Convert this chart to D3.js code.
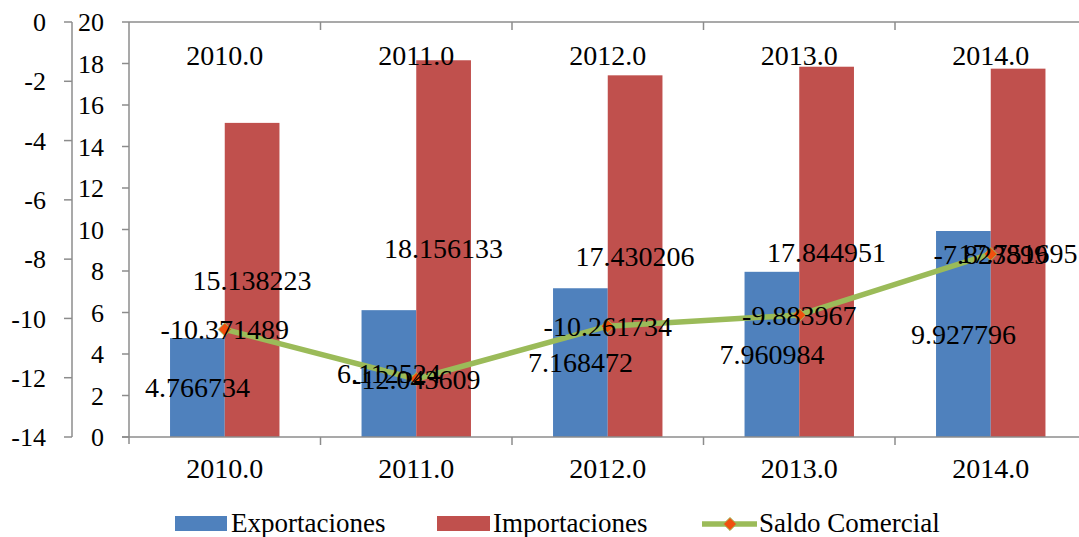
<!DOCTYPE html>
<html>
<head>
<meta charset="utf-8">
<script src="https://cdn.jsdelivr.net/npm/d3@7/dist/d3.min.js"></script>
<style>
  html, body { margin: 0; padding: 0; background: #fff; overflow: hidden; }
  svg { display: block; font-family: "Liberation Serif", "Times New Roman", serif; }
</style>
</head>
<body>
<svg id="chart" width="1079" height="537"></svg>
<script>
// Trade balance data (billions), 2010–2014
const years = ["2010.0", "2011.0", "2012.0", "2013.0", "2014.0"];
const exportaciones = [4.766734, 6.112524, 7.168472, 7.960984, 9.927796];
const importaciones = [15.138223, 18.156133, 17.430206, 17.844951, 17.751695];
const saldo = [-10.371489, -12.043609, -10.261734, -9.883967, -7.823899];
const leftTicks = [0, 2, 4, 6, 8, 10, 12, 14, 16, 18, 20];
const rightTicks = [0, -2, -4, -6, -8, -10, -12, -14];
const seriesNames = ["Exportaciones", "Importaciones", "Saldo Comercial"];

const colors = { exp: "#4F81BD", imp: "#C0504D", line: "#9BBB59", marker: "#F0500F", axis: "#8C8C8C" };

const svg = d3.select("#chart");
const plot = { left: 129, right: 1086.5, top: 22, bottom: 437 };

// Category bands; bars use Excel-style 150% gap width
const x0 = d3.scaleBand().domain(years).range([plot.left, plot.right]).padding(0);
const bw = x0.bandwidth();
const x1 = d3.scaleBand().domain(["exp", "imp"])
  .range([bw * 0.75 / 3.5, bw * 2.75 / 3.5]).padding(0);

const yL = d3.scaleLinear().domain([0, 20]).range([plot.bottom, plot.top]);
const yR = d3.scaleLinear().domain([-14, 0]).range([plot.bottom, plot.top]);

const tickFont = 26, labelFont = 28;

// Bars
const rows = years.map((y, i) => ({ year: y, exp: exportaciones[i], imp: importaciones[i], bal: saldo[i] }));
const groups = svg.append("g").selectAll("g").data(rows).join("g")
  .attr("transform", d => `translate(${x0(d.year)},0)`);
groups.append("rect")
  .attr("x", x1("exp")).attr("width", x1.bandwidth())
  .attr("y", d => yL(d.exp)).attr("height", d => yL(0) - yL(d.exp))
  .attr("fill", colors.exp);
groups.append("rect")
  .attr("x", x1("imp")).attr("width", x1.bandwidth())
  .attr("y", d => yL(d.imp)).attr("height", d => yL(0) - yL(d.imp))
  .attr("fill", colors.imp);

// Axes
const axisG = svg.append("g").attr("stroke", colors.axis).attr("stroke-width", 1.5).attr("fill", "none");
// primary y axis
axisG.append("line").attr("x1", plot.left).attr("x2", plot.left).attr("y1", plot.top).attr("y2", plot.bottom + 7);
leftTicks.forEach(t => axisG.append("line").attr("x1", plot.left - 7).attr("x2", plot.left).attr("y1", yL(t)).attr("y2", yL(t)));
// secondary y axis
const rx = 72;
axisG.append("line").attr("x1", rx).attr("x2", rx).attr("y1", yR(0)).attr("y2", yR(-14));
rightTicks.forEach(t => axisG.append("line").attr("x1", rx - 8).attr("x2", rx).attr("y1", yR(t)).attr("y2", yR(t)));
// bottom axis
axisG.append("line").attr("x1", plot.left - 7).attr("x2", plot.right).attr("y1", plot.bottom).attr("y2", plot.bottom);
years.forEach((y, i) => {
  if (i > 0) axisG.append("line").attr("x1", x0(y)).attr("x2", x0(y)).attr("y1", plot.bottom).attr("y2", plot.bottom + 8);
});
// top (secondary category) axis
axisG.append("line").attr("x1", plot.left).attr("x2", plot.right).attr("y1", plot.top).attr("y2", plot.top);
years.forEach((y, i) => {
  if (i > 0) axisG.append("line").attr("x1", x0(y)).attr("x2", x0(y)).attr("y1", plot.top).attr("y2", plot.top + 8);
});

// Tick labels
const textG = svg.append("g").attr("fill", "#000");
leftTicks.forEach(t => textG.append("text").attr("x", 104).attr("y", yL(t)).attr("dy", "0.35em")
  .attr("text-anchor", "end").attr("font-size", tickFont).text(t));
rightTicks.forEach(t => textG.append("text").attr("x", 46).attr("y", yR(t)).attr("dy", "0.35em")
  .attr("text-anchor", "end").attr("font-size", tickFont).text(t));
years.forEach(y => {
  const cx = x0(y) + bw / 2;
  textG.append("text").attr("x", cx).attr("y", 468).attr("dy", "0.35em")
    .attr("text-anchor", "middle").attr("font-size", labelFont).text(y);
  textG.append("text").attr("x", cx).attr("y", 55).attr("dy", "0.35em")
    .attr("text-anchor", "middle").attr("font-size", labelFont).text(y);
});

// Trade balance line (secondary axis)
const lineGen = d3.line().x(d => x0(d.year) + bw / 2).y(d => yR(d.bal));
svg.append("path").datum(rows).attr("d", lineGen)
  .attr("fill", "none").attr("stroke", colors.line).attr("stroke-width", 5.5).attr("stroke-linejoin", "round");
const diamond = d3.symbol().type(d3.symbolDiamond2).size(110);
svg.append("g").selectAll("path").data(rows).join("path")
  .attr("d", diamond)
  .attr("transform", d => `translate(${x0(d.year) + bw / 2},${yR(d.bal)})`)
  .attr("fill", colors.marker).attr("stroke", colors.line).attr("stroke-width", 1);

// Data labels: bar values at bar centre, balance values on the point
const lab = svg.append("g").attr("font-size", labelFont).attr("text-anchor", "middle").attr("fill", "#000");
rows.forEach(d => {
  lab.append("text").attr("x", x0(d.year) + x1("exp") + x1.bandwidth() / 2)
    .attr("y", (yL(d.exp) + yL(0)) / 2).attr("dy", "0.35em").text(d.exp.toFixed(6));
  lab.append("text").attr("x", x0(d.year) + x1("imp") + x1.bandwidth() / 2)
    .attr("y", (yL(d.imp) + yL(0)) / 2).attr("dy", "0.35em").text(d.imp.toFixed(6));
  lab.append("text").attr("x", x0(d.year) + bw / 2)
    .attr("y", yR(d.bal)).attr("dy", "0.35em").text(d.bal.toFixed(6));
});

// Legend
const leg = svg.append("g").attr("font-size", 27);
const ly = 523;
leg.append("rect").attr("x", 175).attr("y", ly - 7).attr("width", 52).attr("height", 15).attr("fill", colors.exp);
leg.append("text").attr("x", 231).attr("y", ly).attr("dy", "0.35em").text(seriesNames[0]);
leg.append("rect").attr("x", 437).attr("y", ly - 7).attr("width", 53).attr("height", 15).attr("fill", colors.imp);
leg.append("text").attr("x", 493).attr("y", ly).attr("dy", "0.35em").text(seriesNames[1]);
leg.append("line").attr("x1", 702).attr("x2", 757).attr("y1", ly + 1).attr("y2", ly + 1)
  .attr("stroke", colors.line).attr("stroke-width", 5.5);
leg.append("path").attr("d", diamond).attr("transform", `translate(730,${ly + 1})`)
  .attr("fill", colors.marker).attr("stroke", colors.line).attr("stroke-width", 1);
leg.append("text").attr("x", 759).attr("y", ly).attr("dy", "0.35em").text(seriesNames[2]);
</script>
</body>
</html>
